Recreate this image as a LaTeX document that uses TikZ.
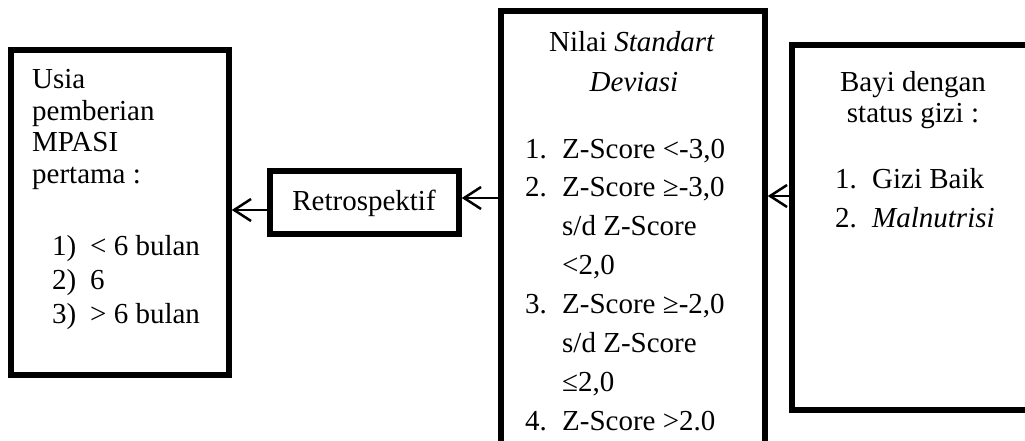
\documentclass[tikz,border=0pt]{standalone}
\usepackage{fontspec}
\setmainfont{Liberation Serif}
\usetikzlibrary{arrows.meta}
\begin{document}
\begin{tikzpicture}[x=1pt,y=-1pt,
  box/.style={draw=black, line width=5.5pt, inner sep=0pt},
  txt/.style={inner sep=0pt, font=\fontsize{29}{31}\selectfont},
  lt/.style={txt, anchor=base west},
  ct/.style={txt, anchor=base},
  flow/.style={line width=2.5pt, -{Straight Barb[length=17pt,width=22pt]}}]
\useasboundingbox (0,0) rectangle (1025,441);
\clip (0,0) rectangle (1025,441);

% frames
\node[box, minimum width=218pt, minimum height=325pt] (usia) at (120,212.5) {};
\node[box, minimum width=189pt, minimum height=63pt] (retro) at (364.5,202.5) {};
\node[box, minimum width=264pt, minimum height=470pt] (nilai) at (633,246) {};
\node[box, minimum width=280pt, minimum height=365pt] (bayi) at (932,227.5) {};

% connectors
\draw[flow] (retro.west |- 0,210) -- (usia.east |- 0,210);
\draw[flow] (nilai.west |- 0,198) -- (retro.east |- 0,198);
\draw[flow] (bayi.west |- 0,196) -- (nilai.east |- 0,196);

% left frame text
\node[lt] (u1) at (32,89) {Usia};
\node[lt] (u2) at (32,120.5) {pemberian};
\node[lt] (u3) at (32,152) {MPASI};
\node[lt] (u4) at (32,183.5) {pertama :};
\node[lt] (un1) at (52,255) {1)};
\node[lt] (ut1) at (90,255) {< 6 bulan};
\node[lt] (un2) at (52,289) {2)};
\node[lt] (ut2) at (90,289) {6};
\node[lt] (un3) at (52,323) {3)};
\node[lt] (ut3) at (90,323) {> 6 bulan};

% small frame text
\node[ct] (r1) at (364,210) {Retrospektif};

% middle frame text (cut off at the lower edge)
\begin{scope}
\clip (480,0) rectangle (790,431.5);
\node[ct] (n1) at (632,52) {Nilai \textit{Standart}};
\node[ct] (n2) at (634,92) {\textit{Deviasi}};
\node[lt] (nn1) at (525,158) {1.};
\node[lt] (nt1) at (562,158) {Z-Score <-3,0};
\node[lt] (nn2) at (525,196.9) {2.};
\node[lt] (nt2) at (562,196.9) {Z-Score ≥-3,0};
\node[lt] (nt2b) at (562,235.8) {s/d Z-Score};
\node[lt] (nt2c) at (562,274.7) {<2,0};
\node[lt] (nn3) at (525,313.6) {3.};
\node[lt] (nt3) at (562,313.6) {Z-Score ≥-2,0};
\node[lt] (nt3b) at (562,352.5) {s/d Z-Score};
\node[lt] (nt3c) at (562,391.4) {≤2,0};
\node[lt] (nn4) at (525,430.3) {4.};
\node[lt] (nt4) at (562,430.3) {Z-Score >2.0};
\end{scope}

% right frame text
\node[ct] (b1) at (913,92) {Bayi dengan};
\node[ct] (b2) at (913,123) {status gizi :};
\node[lt] (bn1) at (835,188) {1.};
\node[lt] (bt1) at (872,188) {Gizi Baik};
\node[lt] (bn2) at (835,227) {2.};
\node[lt] (bt2) at (872,227) {\textit{Malnutrisi}};
\end{tikzpicture}
\end{document}
